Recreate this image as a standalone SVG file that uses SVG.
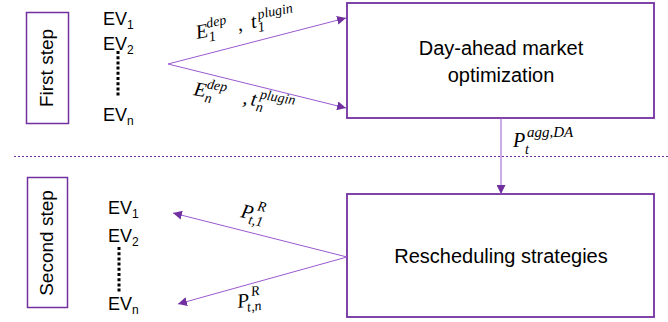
<svg xmlns="http://www.w3.org/2000/svg" width="668" height="322" viewBox="0 0 668 322">
<style>
.box{fill:#fff;stroke:#7030A0;stroke-width:1.8}
.lbl{fill:#fff;stroke:#7030A0;stroke-width:1.5}
.t{font-family:"Liberation Sans",Arial,sans-serif;fill:#000}
.m{font-family:"Liberation Serif","Times New Roman",serif;font-style:italic;fill:#000;font-size:20px}
.s{font-size:14px}
.con{stroke:#9B59D0;stroke-width:1;fill:none}
.dots{stroke:#000;stroke-width:3;stroke-dasharray:3 2.2;fill:none}
</style>
<defs>
<marker id="ah" viewBox="0 0 10 10" refX="10" refY="5" markerWidth="9" markerHeight="9" markerUnits="userSpaceOnUse" orient="auto">
<path d="M0,0 L10,5 L0,10 z" fill="#7030A0"/>
</marker>
</defs>
<line x1="14" y1="156.5" x2="668" y2="156.5" stroke="#7030A0" stroke-width="1" stroke-dasharray="2 2"/>
<g id="first-step">
<rect class="lbl" x="26.5" y="12.5" width="42" height="111"/>
<text class="t" font-size="19" text-anchor="middle" transform="translate(53,68) rotate(-90)">First step</text>
</g>
<g id="second-step">
<rect class="lbl" x="27.5" y="177.5" width="40" height="130"/>
<text class="t" font-size="19" text-anchor="middle" transform="translate(53,243) rotate(-90)">Second step</text>
</g>
<g id="evs-top">
<text class="t" font-size="18" x="103" y="25">EV<tspan font-size="12" dy="4">1</tspan></text>
<text class="t" font-size="18" x="103" y="50">EV<tspan font-size="12" dy="4">2</tspan></text>
<line class="dots" x1="118" y1="51" x2="118" y2="97"/>
<text class="t" font-size="18" x="103" y="121">EV<tspan font-size="12" dy="4">n</tspan></text>
</g>
<g id="evs-bottom">
<text class="t" font-size="18" x="108" y="214">EV<tspan font-size="12" dy="4">1</tspan></text>
<text class="t" font-size="18" x="108" y="242">EV<tspan font-size="12" dy="4">2</tspan></text>
<line class="dots" x1="119" y1="247" x2="119" y2="292"/>
<text class="t" font-size="18" x="108" y="310">EV<tspan font-size="12" dy="4">n</tspan></text>
</g>
<g id="day-ahead">
<rect class="box" x="347" y="3" width="307" height="115"/>
<text class="t" font-size="20" text-anchor="middle" x="501" y="55">Day-ahead market</text>
<text class="t" font-size="20" text-anchor="middle" x="501" y="82">optimization</text>
</g>
<g id="rescheduling">
<rect class="box" x="347" y="194" width="307" height="123"/>
<text class="t" font-size="20" text-anchor="middle" x="501" y="263">Rescheduling strategies</text>
</g>
<g id="connectors">
<line class="con" x1="168" y1="64" x2="346" y2="18" marker-end="url(#ah)"/>
<line class="con" x1="168" y1="64" x2="346" y2="108" marker-end="url(#ah)"/>
<line class="con" x1="501" y1="118" x2="501" y2="194" marker-end="url(#ah)"/>
<line class="con" x1="347" y1="257" x2="173" y2="213" marker-end="url(#ah)"/>
<line class="con" x1="347" y1="257" x2="178" y2="304" marker-end="url(#ah)"/>
</g>
<g id="labels">
<text class="m" transform="translate(197,39) rotate(-11)"><tspan x="0" y="0">E</tspan><tspan class="s" x="12" y="-9">dep</tspan><tspan class="s" x="12" y="5">1</tspan><tspan x="42" y="0">,</tspan><tspan x="56" y="0">t</tspan><tspan class="s" x="64" y="-8">plugin</tspan><tspan class="s" x="62" y="5">1</tspan></text>
<text class="m" transform="translate(193,95) rotate(10)"><tspan x="0" y="0">E</tspan><tspan class="s" x="12" y="-9">dep</tspan><tspan class="s" x="12" y="5">n</tspan><tspan x="50" y="0">,</tspan><tspan x="58" y="0">t</tspan><tspan class="s" x="66" y="-8">plugin</tspan><tspan class="s" x="64" y="5">n</tspan></text>
<text class="m" transform="translate(240,217) rotate(12)"><tspan x="0" y="0">P</tspan><tspan class="s" x="15" y="-10">R</tspan><tspan class="s" x="9" y="5">t,1</tspan></text>
<text class="m" transform="translate(238,308) rotate(-8)"><tspan x="0" y="0">P</tspan><tspan class="s" x="15" y="-10">R</tspan><tspan class="s" x="9" y="5">t,n</tspan></text>
<text class="m"><tspan x="513" y="147">P</tspan><tspan font-size="15" x="527" y="137">agg,DA</tspan><tspan class="s" x="525" y="154">t</tspan></text>
</g>
</svg>
